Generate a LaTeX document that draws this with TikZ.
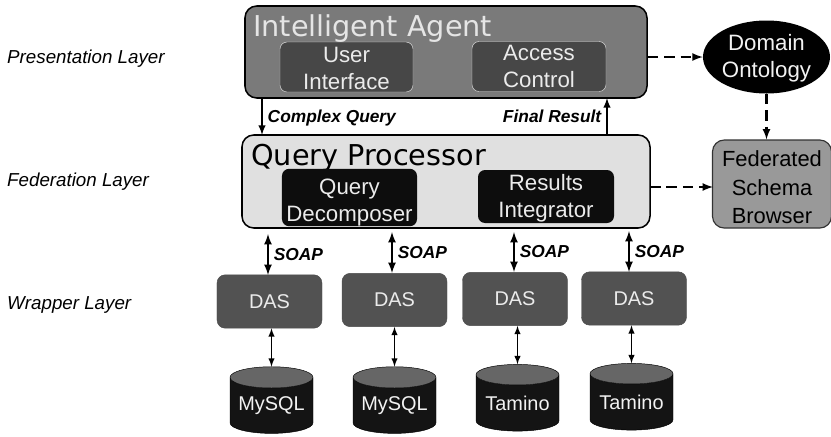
\documentclass[tikz,border=0pt]{standalone}
\usepackage{fontspec}
\setmainfont{Liberation Sans}
\newfontfamily\titlefont{DejaVu Sans}
\usetikzlibrary{shapes.geometric}
\newcommand{\lowa}{\rule{0pt}{16pt}}
\newcommand{\lowb}{\rule{0pt}{22pt}}
\newcommand{\lowc}{\rule{0pt}{19pt}}
\tikzset{
  panel/.style={rectangle,rounded corners=10pt,draw=black,line width=1.3pt},
  inbox/.style={rectangle,rounded corners=6pt,align=center,inner sep=0pt,font=\fontsize{19}{23}\selectfont,text=black!8},
  dasbox/.style={rectangle,rounded corners=7pt,draw=black!70,fill=black!68,text=black!8,minimum width=3.15cm,minimum height=1.6cm,font=\fontsize{17}{20}\selectfont},
  dbnode/.style={cylinder,shape border rotate=90,aspect=0.32,cylinder uses custom fill,cylinder body fill=black!92,cylinder end fill=black!60,draw=black,text=black!5,minimum width=2.49cm,minimum height=2.0cm,inner sep=0pt,font=\fontsize{17}{20}\selectfont},
  layer/.style={anchor=west,inner sep=0pt,font=\fontsize{16}{20}\selectfont\itshape},
  title/.style={anchor=west,inner sep=0pt,font=\fontsize{24.5}{26}\selectfont\titlefont},
  tag/.style={inner sep=4pt,font=\fontsize{14.8}{16}\selectfont\bfseries\itshape},
  dashline/.style={->,line width=2pt,dash pattern=on 9pt off 5pt},
  link/.style={line width=1.8pt},
  soaplink/.style={line width=2pt},
  thinlink/.style={line width=1.4pt}
}
\begin{document}
\begin{tikzpicture}[>=latex,x=0.03cm,y=-0.03cm]
\useasboundingbox (0,0) rectangle (831,436);

\node (l1) at (7,59)[layer]{Presentation Layer};
\node (l2) at (7,182)[layer]{Federation Layer};
\node (l3) at (7,305)[layer]{Wrapper Layer};

\node (agent) at (446,52)[panel,fill=black!52,minimum width=12.06cm,minimum height=2.76cm]{};
\node (agentname) at (253,29)[title,text=black!10]{Intelligent Agent};
\node (ui) at (346.5,67)[inbox,draw=black!12,fill=black!72,minimum width=3.99cm,minimum height=1.5cm]{\lowa User\\Interface};
\node (ac) at (539,66.5)[inbox,draw=black!12,fill=black!72,minimum width=4.02cm,minimum height=1.5cm]{Access\\Control};

\node (qp) at (446,181.5)[panel,fill=black!12,minimum width=12.24cm,minimum height=2.79cm]{};
\node (qpname) at (251,158)[title,text=black]{Query Processor};
\node (qd) at (349.5,197.5)[inbox,fill=black!95,minimum width=4.05cm,minimum height=1.53cm]{\lowb Query\\Decomposer};
\node (ri) at (546,196.5)[inbox,fill=black!95,minimum width=4.08cm,minimum height=1.59cm]{\lowa Results\\Integrator};

\node (onto) at (766.5,57)[ellipse,fill=black,text=black!5,inner sep=0pt,minimum width=3.81cm,minimum height=2.19cm,align=center,font=\fontsize{19}{23}\selectfont]{\lowa Domain\\Ontology};
\node (fsb) at (772,184)[rectangle,rounded corners=10pt,draw=black!80,line width=1pt,fill=black!40,minimum width=3.57cm,minimum height=2.64cm,align=center,inner sep=0pt,font=\fontsize{18.7}{24}\selectfont]{\lowc Federated\\Schema\\Browser};

\node (das1) at (269.5,301.5)[dasbox]{DAS};
\node (das2) at (394.5,300)[dasbox]{DAS};
\node (das3) at (515,299)[dasbox]{DAS};
\node (das4) at (634,298.5)[dasbox]{DAS};

\node (db1) at (271.5,405.5)[dbnode]{MySQL};
\node (db2) at (394.5,405.5)[dbnode]{MySQL};
\node (db3) at (517.5,403)[dbnode]{Tamino};
\node (db4) at (631.5,402)[dbnode]{Tamino};

\coordinate (q1) at (262,98);
\coordinate (q2) at (262,135);
\coordinate (r1) at (607,135);
\coordinate (r2) at (607,98);
\coordinate (s1) at (268,234);
\coordinate (s2) at (392,232);
\coordinate (s3) at (514,232);
\coordinate (s4) at (629,231);
\coordinate (t1) at (268,275);
\coordinate (t2) at (392,273);
\coordinate (t3) at (514,272);
\coordinate (t4) at (629,272);
\coordinate (f1) at (650,187);
\coordinate (f2) at (713,187);

\draw[->,link](q1)--node[right,tag,yshift=-0.06cm]{Complex Query}(q2);
\draw[->,link](r1)--node[left,tag]{Final Result}(r2);

\draw[<->,soaplink](s1)--node[right,tag]{SOAP}(t1);
\draw[<->,soaplink](s2)--node[right,tag]{SOAP}(t2);
\draw[<->,soaplink](s3)--node[right,tag]{SOAP}(t3);
\draw[<->,soaplink](s4)--node[right,tag]{SOAP}(t4);

\draw[<->,thinlink](das1.south -| db1.north)--(db1.north);
\draw[<->,thinlink](das2.south -| db2.north)--(db2.north);
\draw[<->,thinlink](das3.south -| db3.north)--(db3.north);
\draw[<->,thinlink](das4.south -| db4.north)--(db4.north);

\draw[dashline](agent.east |- onto.west)--(onto.west);
\draw[dashline](onto.south)--(onto.south |- fsb.north);
\draw[dashline](f1)--(f2);
\end{tikzpicture}
\end{document}
